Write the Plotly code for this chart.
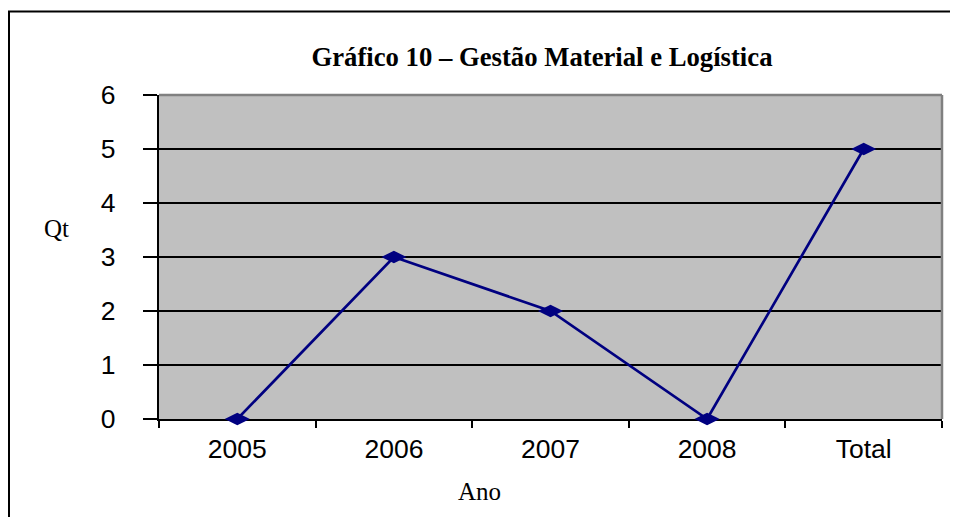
import plotly.graph_objects as go

categories = ["2005", "2006", "2007", "2008", "Total"]
values = [0, 3, 2, 0, 5]
y_ticks = [0, 1, 2, 3, 4, 5, 6]

# page is offset by the 8px body margin; work in figure pixel coords
W, H = 950, 509
L, R, T, B = 151, 16, 87, 98
pw = W - L - R
ph = H - T - B

def px(x):
    return (x - L) / pw

def py(y):
    return (H - B - y) / ph

NB = "\u00a0"

fig = go.Figure()
fig.add_trace(go.Scatter(
    x=categories, y=values, mode="lines+markers",
    line=dict(color="#000080", width=2.7),
    marker=dict(symbol="diamond-wide", size=18, color="#000080"),
    cliponaxis=False, showlegend=False,
))

fig.update_layout(
    width=W, height=H,
    margin=dict(l=L, r=R, t=T, b=B, pad=0),
    paper_bgcolor="white", plot_bgcolor="#C0C0C0",
    title=dict(text="<b>Gráfico 10 – Gestão Material e Logística</b>",
               font=dict(family="Liberation Serif", size=26.7, color="black"),
               x=534 / W, xanchor="center", xref="container",
               y=1 - 49 / H, yanchor="middle", yref="container"),
    xaxis=dict(type="category", range=[-0.5, 4.5], showgrid=False,
               showline=True, linecolor="black", linewidth=2,
               ticks="outside", tickson="boundaries", ticklen=7,
               tickcolor="black", tickwidth=2,
               tickfont=dict(family="Liberation Sans", size=26.5, color="black"),
               ticklabelstandoff=5, layer="below traces", zeroline=False),
    yaxis=dict(range=[0, 6], tickvals=y_ticks,
               ticktext=[str(v) + NB * 3 for v in y_ticks],
               showgrid=True, gridcolor="black", gridwidth=2,
               showline=True, linecolor="black", linewidth=2,
               ticks="outside", ticklen=14, tickcolor="black", tickwidth=2,
               tickfont=dict(family="Liberation Sans", size=26.5, color="black"),
               zeroline=False, layer="below traces"),
    annotations=[
        dict(text="Qt", xref="paper", yref="paper", x=px(48), y=py(220),
             showarrow=False, xanchor="center", yanchor="middle",
             font=dict(family="Liberation Serif", size=25, color="black")),
        dict(text="Ano", xref="paper", yref="paper", x=px(471), y=py(484),
             showarrow=False, xanchor="center", yanchor="middle",
             font=dict(family="Liberation Serif", size=25, color="black")),
    ],
    shapes=[
        dict(type="line", xref="paper", yref="paper", x0=0, x1=1, y0=1, y1=1,
             line=dict(color="#808080", width=2.5), layer="above"),
        dict(type="line", xref="paper", yref="paper", x0=1, x1=1, y0=0, y1=1,
             line=dict(color="#808080", width=2.5), layer="above"),
        # outer frame: left edge and top edge (top stops short of the figure edge)
        dict(type="line", xref="paper", yref="paper",
             x0=px(1), x1=px(1), y0=py(3.5), y1=py(H),
             line=dict(color="black", width=2)),
        dict(type="line", xref="paper", yref="paper",
             x0=px(0), x1=px(W - 2), y0=py(3.5), y1=py(3.5),
             line=dict(color="black", width=2), layer="below"),
    ],
)

fig.write_html("out.html", config={"displayModeBar": False})
